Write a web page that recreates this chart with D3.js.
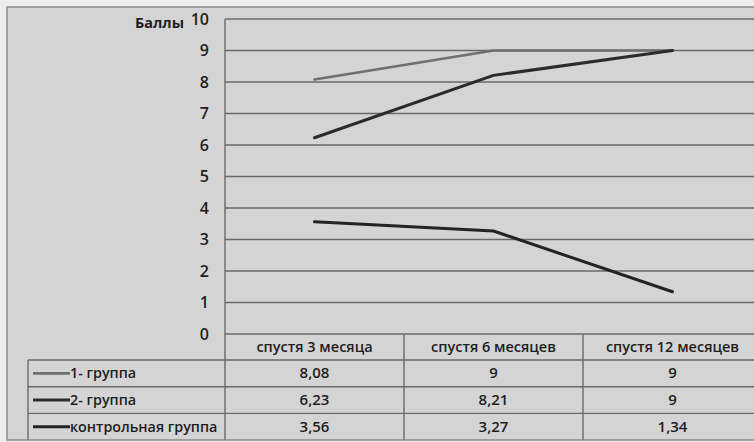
<!DOCTYPE html>
<html>
<head>
<meta charset="utf-8">
<script src="https://cdn.jsdelivr.net/npm/d3@7"></script>
<style>
  html, body { margin: 0; padding: 0; background: #ececec; }
  svg { display: block; }
  text { font-family: "Open Sans", "Liberation Sans", sans-serif; fill: #1e1e1e; }
</style>
</head>
<body>
<svg id="chart" width="754" height="442"></svg>
<script>
// Периоды наблюдения
const periods = ["спустя 3 месяца", "спустя 6 месяцев", "спустя 12 месяцев"];
// Названия групп
const groupNames = ["1- группа", "2- группа", "контрольная группа"];
// Средние баллы по группам
const group1 = [8.08, 9, 9];
const group2 = [6.23, 8.21, 9];
const controlGroup = [3.56, 3.27, 1.34];
// Подписи значений в таблице
const group1Labels = ["8,08", "9", "9"];
const group2Labels = ["6,23", "8,21", "9"];
const controlLabels = ["3,56", "3,27", "1,34"];
const yTicks = [0, 1, 2, 3, 4, 5, 6, 7, 8, 9, 10];

const seriesList = [
  { name: groupNames[0], values: group1, labels: group1Labels, color: "#6f6f6f", width: 2.6 },
  { name: groupNames[1], values: group2, labels: group2Labels, color: "#2b2b2b", width: 3 },
  { name: groupNames[2], values: controlGroup, labels: controlLabels, color: "#232323", width: 3 }
];

const svg = d3.select("#chart");
const W = 754, H = 442;

// frame
svg.append("rect").attr("x", 7).attr("y", 7).attr("width", W).attr("height", 433)
  .attr("fill", "#d4d4d4").attr("stroke", "#8a8a8a").attr("stroke-width", 1.5);

const plotLeft = 225, plotRight = 762, plotTop = 19, plotBottom = 334;

const x = d3.scaleBand().domain(periods).range([plotLeft, plotRight]);
const y = d3.scaleLinear().domain([0, 10]).range([plotBottom, plotTop]);

// horizontal grid
svg.append("g").selectAll("line").data(yTicks).join("line")
  .attr("x1", plotLeft).attr("x2", W)
  .attr("y1", d => y(d)).attr("y2", d => y(d))
  .attr("stroke", "#6a6a6a").attr("stroke-width", 1.4);

// y axis
const yAxis = d3.axisLeft(y).tickValues(yTicks).tickSize(0).tickPadding(16);
const yg = svg.append("g").attr("transform", `translate(${plotLeft},0)`).call(yAxis);
yg.select(".domain").remove();
yg.selectAll("text").attr("font-size", 16).attr("font-weight", 600)
  .style("font-family", '"Open Sans", sans-serif').attr("fill", "#1e1e1e");

svg.append("text").attr("x", 184).attr("y", 28).attr("text-anchor", "end")
  .attr("font-size", 14.5).attr("font-weight", 700).text("Баллы");

// series lines
const line = d3.line()
  .x((d, i) => x(periods[i]) + x.bandwidth() / 2)
  .y(d => y(d));

svg.append("g").selectAll("path").data(seriesList).join("path")
  .attr("d", s => line(s.values))
  .attr("fill", "none")
  .attr("stroke", s => s.color)
  .attr("stroke-width", s => s.width)
  .attr("stroke-linejoin", "round")
  .attr("stroke-linecap", "round");

// data table
const rowTop = plotBottom, headerH = 26, rowH = 26.7;
const tableLeft = 28;
const rowY = i => rowTop + headerH + i * rowH;
const tableBottom = rowY(3);

const grid = svg.append("g").attr("stroke", "#6a6a6a").attr("stroke-width", 1.4);
// row separators
[0, 1, 2].forEach(i => {
  grid.append("line").attr("x1", tableLeft).attr("x2", W)
    .attr("y1", rowY(i)).attr("y2", rowY(i));
});
grid.append("line").attr("x1", tableLeft).attr("x2", tableLeft)
  .attr("y1", rowY(0)).attr("y2", tableBottom);
// y axis line down through the table
grid.append("line").attr("x1", plotLeft).attr("x2", plotLeft)
  .attr("y1", plotTop).attr("y2", tableBottom);
// column separators
periods.slice(1).forEach(p => {
  grid.append("line").attr("x1", x(p)).attr("x2", x(p))
    .attr("y1", rowTop).attr("y2", tableBottom);
});

// header labels
svg.append("g").selectAll("text").data(periods).join("text")
  .attr("x", d => x(d) + x.bandwidth() / 2)
  .attr("y", rowTop + headerH / 2 + 5)
  .attr("text-anchor", "middle")
  .attr("font-size", 14.5).attr("font-weight", 600)
  .text(d => d);

// legend column and values
seriesList.forEach((s, i) => {
  const cy = rowY(i) + rowH / 2;
  svg.append("line").attr("x1", 33).attr("x2", 70).attr("y1", cy).attr("y2", cy)
    .attr("stroke", s.color).attr("stroke-width", s.width);
  svg.append("text").attr("x", 70).attr("y", cy + 5)
    .attr("font-size", 14.3).attr("font-weight", 600).text(s.name);
  svg.append("g").selectAll("text").data(s.labels).join("text")
    .attr("x", (d, j) => x(periods[j]) + x.bandwidth() / 2)
    .attr("y", cy + 5)
    .attr("text-anchor", "middle")
    .attr("font-size", 15).attr("font-weight", 600)
    .text(d => d);
});
</script>
</body>
</html>
